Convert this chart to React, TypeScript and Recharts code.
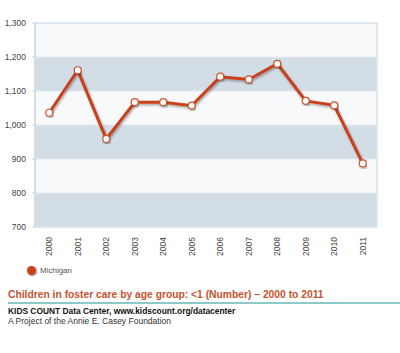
import React from 'react';
import { LineChart, Line, XAxis, YAxis, ReferenceArea } from 'recharts';

const years = ['2000', '2001', '2002', '2003', '2004', '2005', '2006', '2007', '2008', '2009', '2010', '2011'];
const michigan = [1036, 1161, 959, 1067, 1067, 1057, 1142, 1134, 1180, 1071, 1058, 887];
const yTicks = [700, 800, 900, 1000, 1100, 1200, 1300];
const yMinorTicks = [700, 725, 750, 775, 800, 825, 850, 875, 900, 925, 950, 975, 1000, 1025, 1050, 1075, 1100, 1125, 1150, 1175, 1200, 1225, 1250, 1275, 1300];
const darkBands = [[700, 800], [900, 1000], [1100, 1200]];
const seriesName = 'Michigan';
const title = 'Children in foster care by age group: <1 (Number) \u2013 2000 to 2011';
const source = 'KIDS COUNT Data Center, www.kidscount.org/datacenter';
const credit = 'A Project of the Annie E. Casey Foundation';

const data = years.map((y, i) => ({ i, year: y, value: michigan[i] }));
const xCenters = years.map((_, i) => i);
const xBounds = [...years.map((_, i) => i - 0.5), years.length - 0.5];

const FONT = '"Liberation Sans", Arial, sans-serif';
const AXIS = '#c3d3e4';
const LINE = '#c9401b';

const XTick = (props: any) => {
  const { x, y, payload } = props;
  return (
    <text
      x={x}
      y={y}
      dx={-10}
      dy={3}
      transform={`rotate(-90 ${x} ${y})`}
      textAnchor="end"
      fontSize={8.5}
      fontFamily={FONT}
      fill="#444"
    >
      {years[payload.value]}
    </text>
  );
};

export default function App() {
  return (
    <div style={{ position: 'absolute', left: 0, top: 0, width: 400, height: 353, background: '#fff' }}>
      <svg width={0} height={0} style={{ position: 'absolute' }}>
        <defs>
          <filter id="lineShadow" x="-10%" y="-10%" width="120%" height="130%">
            <feDropShadow dx="1" dy="1.5" stdDeviation="1" floodColor="#000" floodOpacity="0.35" />
          </filter>
        </defs>
      </svg>
      <LineChart width={400} height={353} data={data} margin={{ top: 23, right: 23, left: 0, bottom: 96 }}>
        <XAxis
          xAxisId="b"
          dataKey="i"
          type="number"
          domain={[-0.5, years.length - 0.5]}
          ticks={xBounds}
          tick={false}
          tickSize={4}
          height={0}
          stroke={AXIS}
          axisLine={{ stroke: AXIS }}
          tickLine={{ stroke: AXIS }}
          allowDecimals
        />
        <XAxis
          xAxisId="x"
          dataKey="i"
          type="number"
          domain={[-0.5, years.length - 0.5]}
          ticks={xCenters}
          tick={<XTick />}
          tickLine={false}
          axisLine={false}
          tickSize={0}
          tickMargin={0}
          height={30}
          interval={0}
        />
        <YAxis
          yAxisId="m"
          type="number"
          domain={[700, 1300]}
          ticks={yMinorTicks}
          tick={false}
          tickSize={2}
          width={0}
          axisLine={false}
          tickLine={{ stroke: AXIS }}
          interval={0}
        />
        <YAxis
          yAxisId="y"
          type="number"
          domain={[700, 1300]}
          ticks={yTicks}
          tickSize={3}
          tickMargin={6}
          width={35}
          interval={0}
          axisLine={{ stroke: AXIS }}
          tickLine={{ stroke: AXIS }}
          tick={{ fontSize: 8.5, fontFamily: FONT, fill: '#444' }}
          tickFormatter={(v: number) => v.toLocaleString('en-US')}
        />
        <ReferenceArea xAxisId="x" yAxisId="y" x1={-0.5} x2={years.length - 0.5} y1={700} y2={1300} fill="#f7f9fb" fillOpacity={1} stroke={AXIS} strokeWidth={1} />
        {darkBands.map(([a, b]) => (
          <ReferenceArea key={a} xAxisId="x" yAxisId="y" x1={-0.5} x2={years.length - 0.5} y1={a} y2={b} fill="#d3dde6" fillOpacity={1} stroke="#e4eaf0" strokeWidth={1} />
        ))}
        <Line
          xAxisId="x"
          yAxisId="y"
          type="linear"
          dataKey="value"
          name={seriesName}
          stroke={LINE}
          strokeWidth={3}
          filter="url(#lineShadow)"
          dot={{ r: 3.5, fill: '#fff', stroke: '#d0552f', strokeWidth: 1.2 }}
          isAnimationActive={false}
        />
      </LineChart>
      <div style={{ position: 'absolute', left: 27, top: 266, display: 'flex', alignItems: 'center', fontFamily: FONT, fontSize: 8, color: '#555' }}>
        <span style={{ width: 9, height: 9, borderRadius: '50%', background: LINE, boxShadow: '1px 1px 2px rgba(0,0,0,0.4)', display: 'inline-block', marginRight: 4 }} />
        <span>{seriesName}</span>
      </div>
      <div style={{ position: 'absolute', left: 8, top: 289, fontFamily: FONT, fontSize: 10.3, fontWeight: 'bold', color: '#c4532f', whiteSpace: 'nowrap', lineHeight: '12px' }}>
        {title}
      </div>
      <div style={{ position: 'absolute', left: 8, top: 302, width: 392, height: 1.5, background: '#8ccaca' }} />
      <div style={{ position: 'absolute', left: 8, top: 306, fontFamily: FONT, fontSize: 8.4, fontWeight: 'bold', color: '#111', whiteSpace: 'nowrap', lineHeight: '10px' }}>
        {source}
      </div>
      <div style={{ position: 'absolute', left: 8, top: 316, fontFamily: FONT, fontSize: 8.5, color: '#333', whiteSpace: 'nowrap', lineHeight: '10px' }}>
        {credit}
      </div>
    </div>
  );
}
